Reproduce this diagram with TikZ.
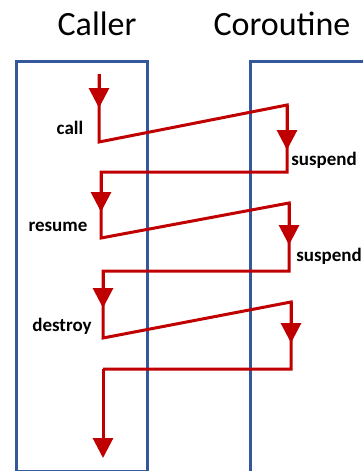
\documentclass[tikz,border=0pt]{standalone}
\usepackage{fontspec}
\setmainfont{Carlito}
\usetikzlibrary{arrows.meta}
\definecolor{boxblue}{RGB}{52,88,155}
\definecolor{flowred}{RGB}{192,0,0}
\tikzset{
  lanebox/.style={draw=boxblue, line width=2.5pt, inner sep=0pt, anchor=north west},
  title/.style={font=\fontsize{34}{40}\selectfont, inner sep=0pt},
  lbl/.style={font=\bfseries\fontsize{19}{22}\selectfont, inner sep=0pt},
  redline/.style={draw=flowred, line width=3pt, miter limit=10, line join=miter},
  redarrow/.style={redline, -{Triangle[length=20pt,width=20pt]}},
}
\begin{document}
\begin{tikzpicture}[x=1pt,y=-1pt]
\useasboundingbox (0,0) rectangle (363,471);
\clip (0,0) rectangle (363,471);
\node[lanebox, minimum width=131pt, minimum height=410pt] (caller) at (15,60) {};
\node[lanebox, minimum width=200pt, minimum height=500pt] (coroutine) at (249,60) {};
\node[title] (tcaller) at (97,24) {Caller};
\node[title] (tcoroutine) at (282,24) {Coroutine};
\node[lbl] (call) at (70,128) {call};
\node[lbl] (susp1) at (324,160) {suspend};
\node[lbl] (resume) at (58,227) {resume};
\node[lbl] (susp2) at (329,256) {suspend};
\node[lbl] (destroy) at (62,326) {destroy};
\coordinate (c1) at (99,74);
\coordinate (t1) at (99,108);
\coordinate (c2) at (99,142);
\coordinate (c3) at (287,105);
\coordinate (t2) at (287,150);
\coordinate (c4) at (287,172);
\coordinate (c5) at (101,172);
\coordinate (t3) at (101,212);
\coordinate (c6) at (101,238);
\coordinate (c7) at (289,203);
\coordinate (t4) at (289,245);
\coordinate (c8) at (289,271);
\coordinate (c9) at (103,271);
\coordinate (t5) at (103,308);
\coordinate (c10) at (103,338);
\coordinate (c11) at (291,302);
\coordinate (t6) at (291,343);
\coordinate (c12) at (291,369);
\coordinate (c13) at (103,369);
\coordinate (t7) at (103,458);
\draw[redline] (c1) -- (c2) -- (c3) -- (c4) -- (c5) -- (c6) -- (c7) -- (c8) -- (c9) -- (c10) -- (c11) -- (c12) -- (c13);
\draw[redarrow] (c1) -- (t1);
\draw[redarrow] (c3) -- (t2);
\draw[redarrow] (c5) -- (t3);
\draw[redarrow] (c7) -- (t4);
\draw[redarrow] (c9) -- (t5);
\draw[redarrow] (c11) -- (t6);
\draw[redarrow] (c13) -- (t7);
\end{tikzpicture}
\end{document}
